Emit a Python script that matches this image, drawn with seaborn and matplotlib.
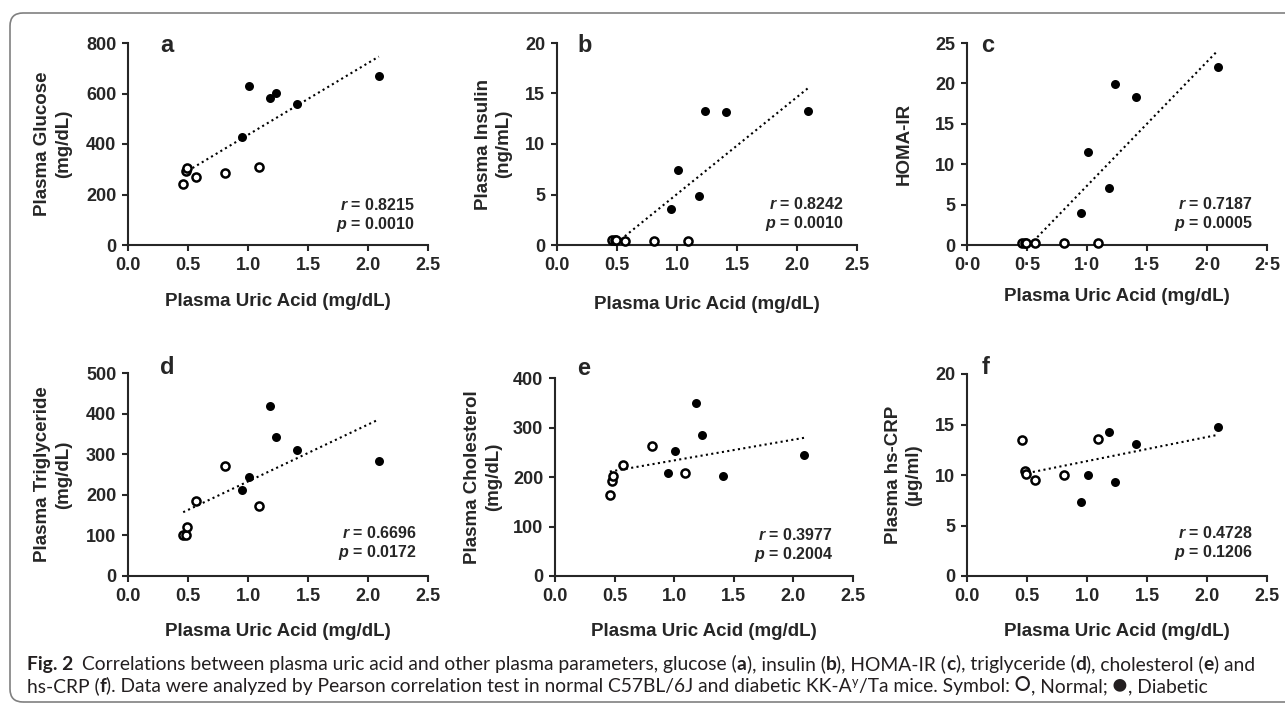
import numpy as np
import pandas as pd
import seaborn as sns
import matplotlib.pyplot as plt
from matplotlib.patches import FancyBboxPatch
from matplotlib.ticker import FuncFormatter, MultipleLocator

# uric acid of the same 12 mice, used in every panel
normal_uric = [0.46, 0.48, 0.49, 0.57, 0.81, 1.09]
diabetic_uric = [0.95, 1.01, 1.18, 1.23, 1.41, 2.09]

glucose_normal = [242, 295, 303, 268, 284, 308]
glucose_diabetic = [427, 628, 582, 602, 560, 671]
insulin_normal = [0.45, 0.45, 0.45, 0.43, 0.43, 0.40]
insulin_diabetic = [3.6, 7.4, 4.9, 13.3, 13.2, 13.3]
homa_normal = [0.3, 0.3, 0.3, 0.3, 0.3, 0.3]
homa_diabetic = [3.9, 11.5, 7.05, 19.9, 18.3, 22.0]
tg_normal = [102, 102, 121, 184, 271, 172]
tg_diabetic = [213, 244, 418, 342, 310, 283]
chol_normal = [163, 192, 202, 224, 263, 208]
chol_diabetic = [209, 252, 349, 285, 202, 244]
crp_normal = [13.5, 10.4, 10.1, 9.5, 10.0, 13.6]
crp_diabetic = [7.35, 10.0, 14.3, 9.3, 13.1, 14.8]

letters = ["a", "b", "c", "d", "e", "f"]
y_labels = ["Plasma Glucose\n(mg/dL)", "Plasma Insulin\n(ng/mL)", "HOMA-IR",
            "Plasma Triglyceride\n(mg/dL)", "Plasma Cholesterol\n(mg/dL)",
            "Plasma hs-CRP\n(\u00b5g/ml)"]
y_max = [800, 20, 25, 500, 400, 20]
y_step = [200, 5, 5, 100, 100, 5]
r_values = ["0.8215", "0.8242", "0.7187", "0.6696", "0.3977", "0.4728"]
p_values = ["0.0010", "0.0010", "0.0005", "0.0172", "0.2004", "0.1206"]
x_label = "Plasma Uric Acid (mg/dL)"

series = [(glucose_normal, glucose_diabetic), (insulin_normal, insulin_diabetic),
          (homa_normal, homa_diabetic), (tg_normal, tg_diabetic),
          (chol_normal, chol_diabetic), (crp_normal, crp_diabetic)]

W, H = 1285, 708
# axes rectangles in pixels: left, top, width, height
rects = [(128, 43, 300, 202), (557, 43, 300, 202), (967, 43, 300, 202),
         (128, 373, 300, 203), (555, 378, 298, 198), (967, 374, 300, 202)]
letter_x = [0.107, 0.067, 0.047, 0.107, 0.074, 0.05]
letter_y = [0.955, 0.955, 0.955, 0.995, 1.015, 1.0]
stat_x = [0.957, 0.957, 0.953, 0.963, 0.933, 0.953]
stat_y = [0.173, 0.178, 0.178, 0.187, 0.18, 0.188]
xpad = [14, 16, 10, 13, 13, 13]
ypad = [10, 9, 16, 10, 8, 9]

sns.set_style("ticks")
plt.rcParams['font.family'] = ['Liberation Sans', 'DejaVu Sans']
plt.rcParams['mathtext.fontset'] = 'custom'
plt.rcParams['mathtext.it'] = 'Liberation Sans:italic:bold'

fig = plt.figure(figsize=(W / 100, H / 100), dpi=100)
fig.patch.set_facecolor("white")

for i in range(6):
    left, top, w, h = rects[i]
    ax = fig.add_axes([left / W, 1 - (top + h) / H, w / W, h / H])
    normal, diabetic = series[i]
    df = pd.DataFrame({
        "uric": normal_uric + diabetic_uric,
        "value": normal + diabetic,
        "group": ["Normal"] * len(normal) + ["Diabetic"] * len(diabetic),
    })

    sns.regplot(data=df, x="uric", y="value", ax=ax, scatter=False, ci=None,
                truncate=True, color="black",
                line_kws={"linestyle": (0, (1, 1.6)), "linewidth": 1.5})
    sns.scatterplot(data=df[df.group == "Diabetic"], x="uric", y="value", ax=ax,
                    color="black", s=42, linewidth=0, clip_on=False, zorder=4)
    sns.scatterplot(data=df[df.group == "Normal"], x="uric", y="value", ax=ax,
                    color="white", edgecolor="black", s=34, linewidth=1.8,
                    clip_on=False, zorder=5)

    ax.set_xlim(0, 2.5)
    ax.set_ylim(0, y_max[i])
    ax.xaxis.set_major_locator(MultipleLocator(0.5))
    ax.yaxis.set_major_locator(MultipleLocator(y_step[i]))
    if letters[i] == "c":
        ax.xaxis.set_major_formatter(FuncFormatter(lambda v, _: f"{v:.1f}".replace(".", "\u00b7")))
    else:
        ax.xaxis.set_major_formatter(FuncFormatter(lambda v, _: f"{v:.1f}"))

    sns.despine(ax=ax)
    for side in ["left", "bottom"]:
        ax.spines[side].set_linewidth(1.5)
    ax.tick_params(direction="out", length=4.5, width=1.5, labelsize=13, pad=4)
    for lab in ax.get_xticklabels() + ax.get_yticklabels():
        lab.set_fontweight("bold")

    ax.set_xlabel(x_label, fontsize=13.5, fontweight="bold", labelpad=xpad[i])
    ax.set_ylabel(y_labels[i], fontsize=13.5, fontweight="bold", labelpad=ypad[i],
                  linespacing=1.3)

    ax.text(letter_x[i], letter_y[i], letters[i], transform=ax.transAxes,
            fontsize=17, fontweight="bold", va="baseline", ha="left")
    ax.text(stat_x[i], stat_y[i], f"$r$ = {r_values[i]}", transform=ax.transAxes,
            fontsize=11.5, fontweight="bold", ha="right", va="baseline")
    ax.text(stat_x[i], stat_y[i] - 0.094, f"$p$ = {p_values[i]}", transform=ax.transAxes,
            fontsize=11.5, fontweight="bold", ha="right", va="baseline")

# rounded frame around the figure (right side runs off the page)
frame = FancyBboxPatch((0.10, 0.06), 13.2, 6.89, boxstyle="round,pad=0,rounding_size=0.13",
                       transform=fig.dpi_scale_trans, facecolor="none",
                       edgecolor="#808080", linewidth=1.2, zorder=0)
fig.add_artist(frame)

# caption, written run by run so bold letters sit inline
cap_font = ['Lato', 'DejaVu Sans']
cap_size = 13.9
cap_color = "#231f20"
line1 = [("Fig. 2", "bold", cap_size, 0, 0),
         ("Correlations between plasma uric acid and other plasma parameters, glucose (", "normal", cap_size, 0, 9),
         ("a", "bold", cap_size, 0, 0), ("), insulin (", "normal", cap_size, 0, 0),
         ("b", "bold", cap_size, 0, 0), ("), HOMA-IR (", "normal", cap_size, 0, 0),
         ("c", "bold", cap_size, 0, 0), ("), triglyceride (", "normal", cap_size, 0, 0),
         ("d", "bold", cap_size, 0, 0), ("), cholesterol (", "normal", cap_size, 0, 0),
         ("e", "bold", cap_size, 0, 0), (") and", "normal", cap_size, 0, 0)]
line2 = [("hs-CRP (", "normal", cap_size, 0, 0), ("f", "bold", cap_size, 0, 0),
         ("). Data were analyzed by Pearson correlation test in normal C57BL/6J and diabetic KK-A",
          "normal", cap_size, 0, 0),
         ("y", "normal", 9, 6, 0),
         ("/Ta mice. Symbol:", "normal", cap_size, 0, 0),
         ("\u25cb", "normal", 19, 0, 4),
         (", Normal;", "normal", cap_size, 0, 0),
         ("\u25cf", "normal", 19, 0, 4),
         (", Diabetic", "normal", cap_size, 0, 0)]

renderer = fig.canvas.get_renderer()


def write_runs(runs, x_px, base_px):
    for text, weight, size, rise, gap in runs:
        x_px += gap
        t = fig.text(x_px / W, (H - base_px + rise) / H, text, family=cap_font,
                     fontsize=size, fontweight=weight, color=cap_color,
                     ha="left", va="baseline")
        x_px += t.get_window_extent(renderer).width


write_runs(line1, 27, 670)
write_runs(line2, 27, 692)

fig.savefig("out.png", dpi=100)
